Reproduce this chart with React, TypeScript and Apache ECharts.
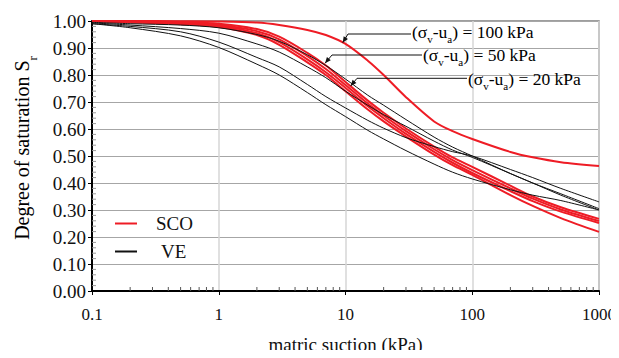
import React, { useEffect, useRef } from "react";
import * as echarts from "echarts";

// matric suction (kPa) sample points
const SUCTION = [0.1, 0.2, 0.5, 1, 2, 3, 5, 7, 10, 15, 20, 30, 50, 70, 100, 200, 300, 500, 1000];

// SCO curves (red)
const SCO_100 = [1.0, 1.0, 0.999, 0.998, 0.994, 0.985, 0.967, 0.948, 0.915, 0.853, 0.8, 0.718, 0.628, 0.592, 0.563, 0.515, 0.495, 0.477, 0.463];
const SCO_A = [1.0, 0.998, 0.995, 0.99, 0.97, 0.942, 0.882, 0.835, 0.774, 0.705, 0.66, 0.602, 0.535, 0.495, 0.46, 0.39, 0.35, 0.31, 0.267];
const SCO_B = [1.0, 0.997, 0.993, 0.986, 0.962, 0.932, 0.87, 0.822, 0.763, 0.694, 0.65, 0.592, 0.525, 0.485, 0.448, 0.38, 0.342, 0.302, 0.259];
const SCO_C = [1.0, 0.996, 0.99, 0.982, 0.955, 0.922, 0.858, 0.81, 0.752, 0.684, 0.64, 0.582, 0.515, 0.475, 0.437, 0.37, 0.333, 0.294, 0.252];
const SCO_D = [1.0, 0.995, 0.988, 0.978, 0.948, 0.912, 0.847, 0.8, 0.74, 0.672, 0.628, 0.572, 0.505, 0.466, 0.43, 0.355, 0.315, 0.27, 0.219];

// VE curves (black)
const VE_A = [0.995, 0.99, 0.985, 0.975, 0.95, 0.925, 0.875, 0.835, 0.785, 0.725, 0.688, 0.635, 0.57, 0.533, 0.5, 0.435, 0.4, 0.355, 0.3];
const VE_B = [0.993, 0.985, 0.972, 0.955, 0.915, 0.885, 0.83, 0.79, 0.74, 0.688, 0.653, 0.61, 0.555, 0.522, 0.495, 0.435, 0.4, 0.36, 0.305];
const VE_C = [0.99, 0.98, 0.96, 0.922, 0.865, 0.83, 0.765, 0.72, 0.678, 0.632, 0.603, 0.568, 0.535, 0.516, 0.5, 0.45, 0.42, 0.38, 0.33];
const VE_D = [0.99, 0.975, 0.945, 0.902, 0.84, 0.8, 0.735, 0.69, 0.646, 0.595, 0.563, 0.52, 0.47, 0.44, 0.415, 0.375, 0.355, 0.335, 0.3];

const SCO_CURVES = [SCO_100, SCO_A, SCO_B, SCO_C, SCO_D];
const VE_CURVES = [VE_A, VE_B, VE_C, VE_D];

// minor tick positions
const X_MINOR = [0.2, 0.3, 0.4, 0.5, 0.6, 0.7, 0.8, 0.9, 2, 3, 4, 5, 6, 7, 8, 9, 20, 30, 40, 50, 60, 70, 80, 90, 200, 300, 400, 500, 600, 700, 800, 900];
const Y_MINOR = [0.02, 0.04, 0.06, 0.08, 0.12, 0.14, 0.16, 0.18, 0.22, 0.24, 0.26, 0.28, 0.32, 0.34, 0.36, 0.38, 0.42, 0.44, 0.46, 0.48, 0.52, 0.54, 0.56, 0.58, 0.62, 0.64, 0.66, 0.68, 0.72, 0.74, 0.76, 0.78, 0.82, 0.84, 0.86, 0.88, 0.92, 0.94, 0.96, 0.98];

const ANNOTATIONS = ["100", "50", "20"];

const FONT = "Liberation Serif";
const RED = "#ee1c25";
const INK = "#111111";

function arrowHead(tip: number[], from: number[]) {
  const dx = tip[0] - from[0];
  const dy = tip[1] - from[1];
  const len = Math.sqrt(dx * dx + dy * dy);
  const ux = dx / len, uy = dy / len;
  const bx = tip[0] - ux * 6, by = tip[1] - uy * 6;
  const px = -uy * 2.5, py = ux * 2.5;
  return [tip, [bx + px, by + py], [bx - px, by - py]];
}

export default function App() {
  const ref = useRef<HTMLDivElement>(null);
  useEffect(() => {
    if (!ref.current) return;
    const chart = echarts.init(ref.current, null, { renderer: "svg" });

    const series: any[] = [];
    SCO_CURVES.forEach((c) => {
      series.push({
        name: "SCO",
        type: "line",
        data: SUCTION.map((s, i) => [s, c[i]]),
        smooth: 0.3,
        showSymbol: false,
        symbol: "none",
        lineStyle: { color: RED, width: 2 },
        itemStyle: { color: RED },
        z: 3,
      });
    });
    VE_CURVES.forEach((c) => {
      series.push({
        name: "VE",
        type: "line",
        data: SUCTION.map((s, i) => [s, c[i]]),
        smooth: 0.3,
        showSymbol: false,
        symbol: "none",
        lineStyle: { color: INK, width: 1 },
        itemStyle: { color: INK },
        z: 4,
      });
    });
    series.push({
      type: "custom",
      silent: true,
      data: X_MINOR.map((v) => [v, 0]),
      renderItem: (params: any, api: any) => {
        const p = api.coord([api.value(0), 0]);
        return {
          type: "line",
          shape: { x1: p[0], y1: p[1], x2: p[0], y2: p[1] - 4 },
          style: { stroke: "#555", lineWidth: 1 },
        };
      },
      z: 5,
    });
    series.push({
      type: "custom",
      silent: true,
      data: Y_MINOR.map((v) => [0.1, v]),
      renderItem: (params: any, api: any) => {
        const p = api.coord([0.1, api.value(1)]);
        return {
          type: "line",
          shape: { x1: p[0], y1: p[1], x2: p[0] + 4, y2: p[1] },
          style: { stroke: "#999", lineWidth: 1 },
        };
      },
      z: 5,
    });

    const sub = { fontSize: 11, fontFamily: FONT, color: INK, lineHeight: 14, verticalAlign: "bottom", padding: [0, 0, -4, 0] };
    const norm = { fontSize: 17.5, fontFamily: FONT, color: INK, lineHeight: 16 };

    const annPos = [
      { tx: 412, ty: 32, corner: [348, 34], tip: [342.7, 42.7] },
      { tx: 423, ty: 55, corner: [332, 55], tip: [325, 63.3] },
      { tx: 468, ty: 79, corner: [357, 78.3], tip: [350.7, 86] },
    ];
    const graphics: any[] = [];
    ANNOTATIONS.forEach((p, i) => {
      const a = annPos[i];
      graphics.push({
        type: "polyline",
        shape: { points: [[a.tx - 1, a.corner[1]], a.corner, a.tip] },
        style: { stroke: INK, lineWidth: 1, fill: null },
        z: 10,
      });
      graphics.push({
        type: "polygon",
        shape: { points: arrowHead(a.tip, a.corner) },
        style: { fill: INK },
        z: 10,
      });
      graphics.push({
        type: "text",
        x: a.tx,
        y: a.ty,
        style: {
          text: `{n|(σ}{s|v}{n|-u}{s|a}{n|) = ${p} kPa}`,
          rich: { n: norm, s: sub },
          verticalAlign: "middle",
          align: "left",
        },
        z: 10,
      });
    });
    graphics.push({
      type: "text",
      x: 22,
      y: 148,
      rotation: Math.PI / 2,
      style: {
        text: "{n|Degree of saturation S}{s|r}",
        rich: {
          n: { fontSize: 20, fontFamily: FONT, color: INK },
          s: { fontSize: 13, fontFamily: FONT, color: INK, verticalAlign: "bottom", padding: [0, 0, -7, 0] },
        },
        align: "center",
        verticalAlign: "middle",
      },
    });

    chart.setOption({
      animation: false,
      backgroundColor: "#fff",
      textStyle: { fontFamily: FONT },
      grid: {
        left: 92,
        right: 20,
        top: 21,
        bottom: 67,
        show: true,
        borderColor: "#7f7f7f",
        borderWidth: 1.5,
        containLabel: false,
        outerBoundsMode: "none",
      },
      legend: {
        data: [
          { name: "SCO", icon: "rect" },
          { name: "VE", icon: "rect", textStyle: { padding: [4, 0, 0, 19] } },
        ],
        orient: "vertical",
        left: 110,
        top: 209,
        itemWidth: 22,
        itemHeight: 2,
        itemGap: 9,
        textStyle: { fontSize: 19, fontFamily: FONT, color: INK, padding: [0, 0, 0, 14] },
        selectedMode: false,
      },
      xAxis: {
        type: "log",
        logBase: 10,
        min: 0.1,
        max: 1000,
        name: "matric suction (kPa)",
        nameLocation: "middle",
        nameGap: 44,
        nameTextStyle: { fontSize: 19, fontFamily: FONT, color: INK },
        axisLine: { show: true, onZero: false, lineStyle: { color: "#000", width: 2 } },
        axisTick: { show: true, inside: false, length: 4, lineStyle: { color: "#000" } },
        axisLabel: {
          fontSize: 17,
          fontFamily: FONT,
          color: INK,
          margin: 15,
          formatter: (v: number) => (v < 1 ? String(Number(v.toFixed(1))) : String(Math.round(v))),
        },
        splitLine: { show: true, lineStyle: { color: "#d6d6d6", width: 1.5 } },
        minorTick: { show: false },
      },
      yAxis: {
        type: "value",
        min: 0,
        max: 1,
        interval: 0.1,
        axisLine: { show: true, lineStyle: { color: "#000", width: 2 } },
        axisTick: { show: true, inside: false, length: 4, lineStyle: { color: "#000" } },
        axisLabel: {
          fontSize: 19,
          fontFamily: FONT,
          color: INK,
          margin: 6,
          formatter: (v: number) => v.toFixed(2),
        },
        splitLine: { show: true, lineStyle: { color: "#a6a6a6", width: 1 } },
      },
      series,
      graphic: graphics,
    });
    return () => chart.dispose();
  }, []);
  return <div ref={ref} style={{ width: 619, height: 358, margin: -8 }} />;
}
